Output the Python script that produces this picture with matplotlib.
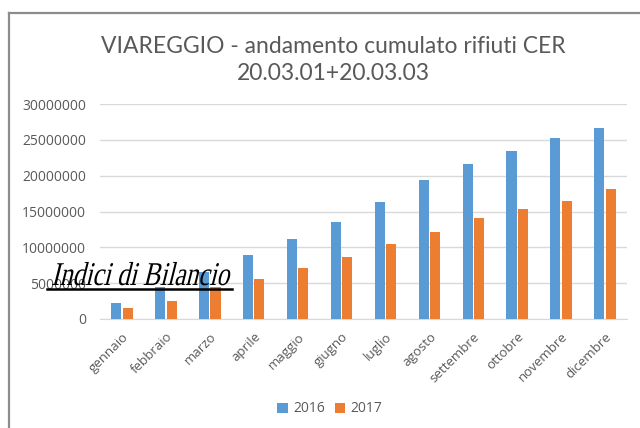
import matplotlib
matplotlib.use("Agg")
import matplotlib.pyplot as plt
import numpy as np
from matplotlib.lines import Line2D
from matplotlib.textpath import TextPath
from matplotlib.patches import PathPatch
from matplotlib.transforms import Affine2D
from matplotlib import font_manager as fm

# dati
mesi = ["gennaio", "febbraio", "marzo", "aprile", "maggio", "giugno",
        "luglio", "agosto", "settembre", "ottobre", "novembre", "dicembre"]
v2016 = [2200000, 4500000, 6600000, 9000000, 11200000, 13600000,
         16300000, 19400000, 21600000, 23500000, 25200000, 26600000]
v2017 = [1500000, 2500000, 4400000, 5600000, 7100000, 8650000,
         10400000, 12100000, 14100000, 15300000, 16400000, 18200000]
yticks = [0, 5000000, 10000000, 15000000, 20000000, 25000000, 30000000]

W, H = 640, 428
grigio = "#595959"
fig = plt.figure(figsize=(6.4, 4.28), dpi=100)
fig.patch.set_facecolor("white")

# cornice del grafico
fig.add_artist(Line2D([9 / W, 9 / W], [0, 1 - 13 / H], color="#8c8c8c", lw=1.6))
fig.add_artist(Line2D([9 / W, 1], [1 - 13 / H, 1 - 13 / H], color="#8c8c8c", lw=1.6))

ax = fig.add_axes([100 / W, 1 - 319 / H, 527 / W, 215 / H])
x = np.arange(len(mesi))
bw = 0.23
ax.bar(x - 0.13, v2016, bw, color="#5B9BD5", label="2016", zorder=3)
ax.bar(x + 0.13, v2017, bw, color="#ED7D31", label="2017", zorder=3)

ax.set_xlim(-0.5, len(mesi) - 0.5)
ax.set_ylim(0, 30000000)
ax.set_yticks(yticks)
ax.set_yticklabels([str(v) for v in yticks], fontsize=10, color=grigio, family="Open Sans")
ax.set_xticks(x)
ax.set_xticklabels(mesi, rotation=45, ha="right", rotation_mode="anchor",
                   fontsize=9.5, color=grigio, family="Open Sans")
ax.tick_params(axis="y", length=0, pad=10)
ax.tick_params(axis="x", length=0, pad=8)
ax.grid(axis="y", color="#d9d9d9", lw=1, zorder=0)
for s in ["top", "right", "left"]:
    ax.spines[s].set_visible(False)
ax.spines["bottom"].set_color("#d9d9d9")

fig.text(333 / W, 1 - 53 / H, "VIAREGGIO - andamento cumulato rifiuti CER",
         ha="center", va="baseline", fontsize=16.5, color=grigio, family="Lato")
fig.text(333 / W, 1 - 80 / H, "20.03.01+20.03.03",
         ha="center", va="baseline", fontsize=16.5, color=grigio, family="Lato")

ax.legend(loc="center", bbox_to_anchor=(330 / W, 1 - 409 / H), bbox_transform=fig.transFigure,
          ncol=2, frameon=False, prop={"family": "Open Sans", "size": 10}, labelcolor=grigio,
          handlelength=0.75, handleheight=0.75, handletextpad=0.4, columnspacing=0.7)

# scritta sovrapposta: serif inclinato (nessun corsivo installato)
tp = TextPath((0, 0), "Indici di Bilancio", size=100,
              prop=fm.FontProperties(family="Liberation Serif"))
ext = tp.get_extents()
sx = 176 / ext.width
sy = 22 / 66.2
tr = (Affine2D().scale(sx, sy).skew_deg(14, 0)
      .translate(51, H - 285))
fig.add_artist(PathPatch(tp, transform=tr, facecolor="black", edgecolor="none", lw=0))
fig.add_artist(Line2D([47 / W, 232 / W], [1 - 289 / H, 1 - 289 / H], color="black", lw=1.8))

fig.savefig("out.png", dpi=100)
